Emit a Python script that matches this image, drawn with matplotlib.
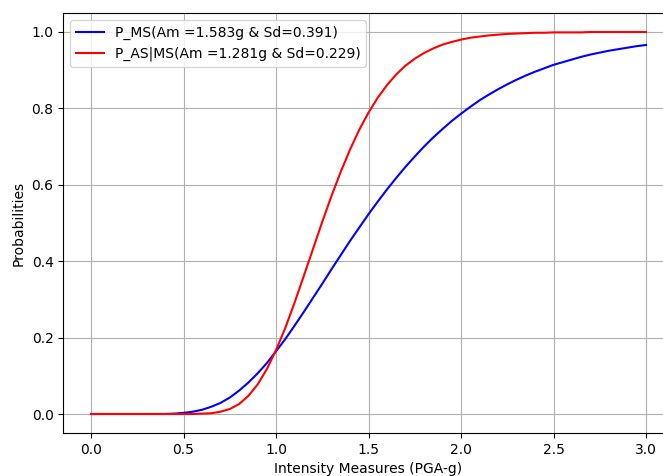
import matplotlib
matplotlib.use("Agg")
import matplotlib.pyplot as plt

# peak ground acceleration (g)
pga = [0.00, 0.05, 0.10, 0.15, 0.20, 0.25, 0.30, 0.35, 0.40, 0.45,
       0.50, 0.55, 0.60, 0.65, 0.70, 0.75, 0.80, 0.85, 0.90, 0.95,
       1.00, 1.05, 1.10, 1.15, 1.20, 1.25, 1.30, 1.35, 1.40, 1.45,
       1.50, 1.55, 1.60, 1.65, 1.70, 1.75, 1.80, 1.85, 1.90, 1.95,
       2.00, 2.05, 2.10, 2.15, 2.20, 2.25, 2.30, 2.35, 2.40, 2.45,
       2.50, 2.55, 2.60, 2.65, 2.70, 2.75, 2.80, 2.85, 2.90, 2.95,
       3.00]

# mainshock fragility
p_ms = [0.000, 0.000, 0.000, 0.000, 0.000, 0.000, 0.000, 0.000, 0.000, 0.001,
        0.003, 0.006, 0.011, 0.019, 0.029, 0.043, 0.061, 0.082, 0.106, 0.133,
        0.164, 0.196, 0.231, 0.267, 0.304, 0.341, 0.379, 0.416, 0.453, 0.488,
        0.523, 0.556, 0.588, 0.618, 0.647, 0.674, 0.700, 0.724, 0.746, 0.767,
        0.786, 0.804, 0.821, 0.836, 0.850, 0.863, 0.875, 0.886, 0.896, 0.905,
        0.914, 0.921, 0.928, 0.935, 0.941, 0.946, 0.951, 0.955, 0.959, 0.963,
        0.966]

# aftershock given mainshock fragility
p_as_ms = [0.000, 0.000, 0.000, 0.000, 0.000, 0.000, 0.000, 0.000, 0.000, 0.000,
           0.000, 0.000, 0.001, 0.002, 0.006, 0.013, 0.026, 0.047, 0.077, 0.117,
           0.167, 0.225, 0.291, 0.361, 0.432, 0.503, 0.571, 0.634, 0.692, 0.744,
           0.789, 0.828, 0.861, 0.889, 0.912, 0.930, 0.945, 0.957, 0.967, 0.974,
           0.980, 0.985, 0.988, 0.991, 0.993, 0.995, 0.996, 0.997, 0.998, 0.998,
           0.999, 0.999, 0.999, 0.999, 1.000, 1.000, 1.000, 1.000, 1.000, 1.000,
           1.000]

fig = plt.figure(figsize=(6.63, 4.76), dpi=100)
ax = fig.add_axes([63.25 / 663, 42.9 / 476, 610.5 / 663, 420.2 / 476])

ax.plot(pga, p_ms, color='blue', label='P_MS(Am =1.583g & Sd=0.391)')
ax.plot(pga, p_as_ms, color='red', label='P_AS|MS(Am =1.281g & Sd=0.229)')

ax.grid(True)
ax.set_xlabel('Intensity Measures (PGA-g)')
ax.set_ylabel('Probabilities')
ax.legend(loc='upper left')

fig.savefig('out.png')
